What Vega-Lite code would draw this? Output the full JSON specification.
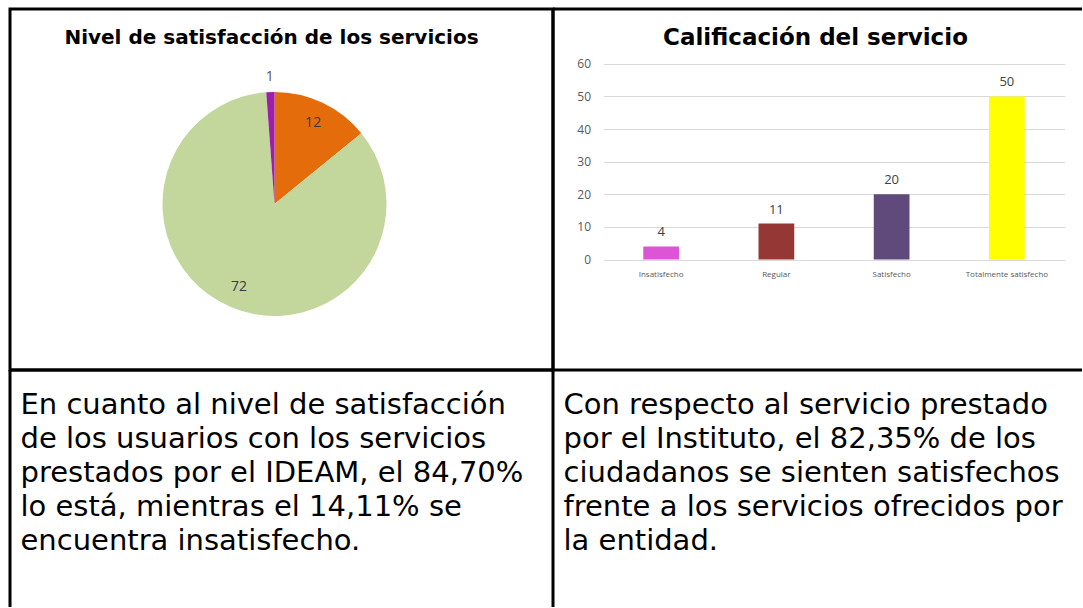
{
  "$schema": "https://vega.github.io/schema/vega-lite/v6.json",
  "padding": {"left": 8, "top": 7, "right": 0, "bottom": 0},
  "background": "white",
  "columns": 2,
  "spacing": 0,
  "bounds": "flush",
  "resolve": {"scale": {"color": "independent", "x": "independent", "y": "independent", "theta": "independent"}},
  "config": {"view": {"stroke": null}, "font": "DejaVu Sans"},
  "concat": [
    {
      "width": 543,
      "height": 361,
      "view": {"stroke": "black", "strokeWidth": 3},
      "title": {"text": "Nivel de satisfacción de los servicios", "font": "DejaVu Sans", "fontSize": 20, "fontWeight": "bold", "color": "black", "offset": -55, "baseline": "alphabetic", "frame": "group", "anchor": "middle", "dx": -10},
      "data": {"values": [
        {"categoria": "Insatisfecho", "valor": 12, "orden": 1},
        {"categoria": "Satisfecho", "valor": 72, "orden": 2},
        {"categoria": "Sin respuesta", "valor": 1, "orden": 3}
      ]},
      "encoding": {
        "theta": {"field": "valor", "type": "quantitative", "stack": true},
        "order": {"field": "orden", "type": "quantitative"}
      },
      "layer": [
        {
          "mark": {"type": "arc", "outerRadius": 112, "xOffset": -7, "yOffset": 14.5},
          "encoding": {
            "color": {"field": "categoria", "type": "nominal", "scale": {"domain": ["Insatisfecho", "Satisfecho", "Sin respuesta"], "range": ["#e46c0a", "#c3d69b", "#9f1dab"]}, "legend": null}
          }
        },
        {
          "mark": {"type": "text", "radius": 90, "xOffset": -7, "yOffset": 14.5, "font": "Open Sans", "fontSize": 14, "baseline": "middle"},
          "encoding": {
            "detail": {"field": "categoria", "type": "nominal"},
            "text": {"condition": {"test": "datum.valor >= 5", "field": "valor", "type": "quantitative"}, "value": ""},
            "color": {"value": "#3a3a3a"}
          }
        },
        {
          "mark": {"type": "text", "radius": 127, "xOffset": -7, "yOffset": 14.5, "font": "Open Sans", "fontSize": 14, "baseline": "middle"},
          "encoding": {
            "detail": {"field": "categoria", "type": "nominal"},
            "text": {"condition": {"test": "datum.valor < 5", "field": "valor", "type": "quantitative"}, "value": ""},
            "color": {"value": "#595959"}
          }
        }
      ]
    },
    {
      "width": 529,
      "height": 361,
      "view": {"stroke": "black", "strokeWidth": 3, "strokeDash": [529, 361, 890, 0]},
      "title": {"text": "Calificación del servicio", "font": "DejaVu Sans", "fontSize": 23, "fontWeight": "bold", "color": "black", "offset": -59, "baseline": "alphabetic", "frame": "group", "anchor": "middle", "dx": -2},
      "data": {"values": [
        {"calificacion": "Insatisfecho", "cantidad": 4},
        {"calificacion": "Regular", "cantidad": 11},
        {"calificacion": "Satisfecho", "cantidad": 20},
        {"calificacion": "Totalmente satisfecho", "cantidad": 50}
      ]},
      "encoding": {
        "x": {
          "field": "calificacion", "type": "nominal", "sort": null,
          "scale": {"range": [50.5, 511.5], "paddingInner": 0.69, "paddingOuter": 0.345},
          "axis": {"title": null, "orient": "bottom", "offset": -110.5, "domain": false, "ticks": false, "labelAngle": 0, "labelPadding": 11, "labelFont": "Open Sans", "labelFontSize": 8, "labelColor": "#595959", "labelBaseline": "top"}
        },
        "y": {
          "field": "cantidad", "type": "quantitative",
          "scale": {"domain": [0, 60], "range": [250.5, 54.8], "nice": false, "zero": true},
          "axis": {"title": null, "orient": "left", "offset": -50.5, "values": [0, 10, 20, 30, 40, 50, 60], "domain": false, "ticks": false, "grid": true, "gridColor": "#d9d9d9", "gridWidth": 1, "labelPadding": 13, "labelFont": "Open Sans", "labelFontSize": 12, "labelColor": "#595959"}
        }
      },
      "layer": [
        {
          "mark": {"type": "bar"},
          "encoding": {
            "color": {"field": "calificacion", "type": "nominal", "sort": null, "scale": {"domain": ["Insatisfecho", "Regular", "Satisfecho", "Totalmente satisfecho"], "range": ["#dd55d6", "#953735", "#604a7b", "#ffff00"]}, "legend": null}
          }
        },
        {
          "mark": {"type": "text", "dy": -14, "baseline": "middle", "font": "Open Sans", "fontSize": 13, "color": "#404040"},
          "encoding": {"text": {"field": "cantidad", "type": "quantitative"}}
        }
      ]
    },
    {
      "width": 543,
      "height": 237,
      "view": {"stroke": "black", "strokeWidth": 3, "strokeDash": [780, 543, 237, 0]},
      "data": {"values": [
        {"linea": 1, "texto": "En cuanto al nivel de satisfacción"},
        {"linea": 2, "texto": "de los usuarios con los servicios"},
        {"linea": 3, "texto": "prestados por el IDEAM, el 84,70%"},
        {"linea": 4, "texto": "lo está, mientras el 14,11% se"},
        {"linea": 5, "texto": "encuentra insatisfecho."}
      ]},
      "mark": {"type": "text", "align": "left", "baseline": "alphabetic", "font": "DejaVu Sans", "fontSize": 29, "color": "black"},
      "encoding": {
        "x": {"value": 10.5},
        "y": {"field": "linea", "type": "quantitative", "scale": {"domain": [1, 5], "range": [44, 180]}, "axis": null},
        "text": {"field": "texto", "type": "nominal"}
      }
    },
    {
      "width": 529,
      "height": 237,
      "view": {"stroke": null},
      "data": {"values": [
        {"linea": 1, "texto": "Con respecto al servicio prestado"},
        {"linea": 2, "texto": "por el Instituto, el 82,35% de los"},
        {"linea": 3, "texto": "ciudadanos se sienten satisfechos"},
        {"linea": 4, "texto": "frente a los servicios ofrecidos por"},
        {"linea": 5, "texto": "la entidad."}
      ]},
      "mark": {"type": "text", "align": "left", "baseline": "alphabetic", "font": "DejaVu Sans", "fontSize": 29, "color": "black"},
      "encoding": {
        "x": {"value": 10.5},
        "y": {"field": "linea", "type": "quantitative", "scale": {"domain": [1, 5], "range": [44, 180]}, "axis": null},
        "text": {"field": "texto", "type": "nominal"}
      }
    }
  ]
}
